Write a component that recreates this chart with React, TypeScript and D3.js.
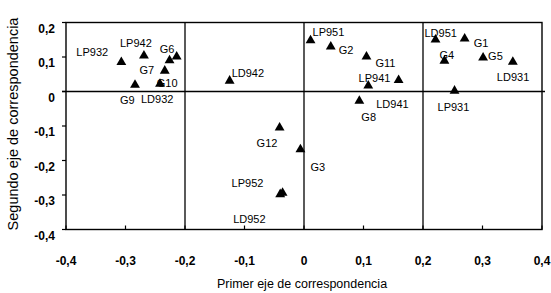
import * as d3 from 'd3';

// point names and coordinates on the two correspondence axes
const names = ['LP932', 'LP942', 'G6', 'G7', 'G10', 'LD932', 'G9', 'LD942', 'G12', 'G3', 'LP952', 'LD952',
  'LP951', 'G2', 'G11', 'LP941', 'LD941', 'G8', 'LD951', 'G1', 'G4', 'G5', 'LD931', 'LP931'];
const dim1 = [-0.307, -0.269, -0.214, -0.226, -0.234, -0.242, -0.284, -0.125, -0.041, -0.006, -0.036, -0.040,
  0.011, 0.045, 0.105, 0.159, 0.108, 0.093, 0.221, 0.270, 0.236, 0.301, 0.351, 0.253];
const dim2 = [0.085, 0.104, 0.101, 0.090, 0.060, 0.022, 0.019, 0.031, -0.105, -0.168, -0.294, -0.298,
  0.148, 0.130, 0.101, 0.033, 0.017, -0.027, 0.150, 0.153, 0.089, 0.098, 0.086, 0.002];

const xTicks = [-0.4, -0.3, -0.2, -0.1, 0, 0.1, 0.2, 0.3, 0.4];
const yTicks = [0.2, 0.1, 0, -0.1, -0.2, -0.3, -0.4];

// label placement relative to the marker (px): left edge, vertical centre
const labelOffsets: [number, number][] = [
  [-45, -10], [-24, -13], [-17, -8], [-30, 10], [-8, 12], [-19, 15], [-15, 15], [2, -8], [-23, 15], [10, 18],
  [-51, -10], [-47, 25], [2, -8], [8, 3], [9, 6], [-40, -2], [8, 18], [2, 16], [-11, -7], [9, 4], [-5, -6],
  [5, -2], [-16, 15], [-17, 16],
];

const fmt = (v: number) => (v === 0 ? '0' : d3.format('.1f')(v).replace('.', ',').replace('−', '-'));

export default function App() {
  const W = 551, H = 293;
  const x = d3.scaleLinear().domain([-0.4, 0.4]).range([66, 542]);
  const y = d3.scaleLinear().domain([-0.4, 0.2]).range([229.5, 22.5]);
  const tri = d3.symbol(d3.symbolTriangle, 42)()!;
  const font = 'Arial, "Liberation Sans", sans-serif';

  return (
    <svg width={W} height={H} style={{ position: 'absolute', left: 0, top: 0, background: '#fff' }} fontFamily={font}>
      {/* frame and grid */}
      <rect x={x(-0.4)} y={y(0.2)} width={x(0.4) - x(-0.4)} height={y(-0.4) - y(0.2)} fill="none" stroke="#000" strokeWidth={1.4} />
      {[-0.2, 0, 0.2].map(v => (
        <line key={v} x1={x(v)} x2={x(v)} y1={y(0.2)} y2={y(-0.4)} stroke="#000" strokeWidth={1.3} />
      ))}
      <line x1={x(-0.4) - 4} x2={x(0.4) + 3} y1={y(0)} y2={y(0)} stroke="#000" strokeWidth={1.3} />

      {/* y axis ticks */}
      {yTicks.map(v => (
        <g key={v}>
          <line x1={x(-0.4) - 4} x2={x(-0.4)} y1={y(v)} y2={y(v)} stroke="#000" strokeWidth={1.2} />
          <text x={55} y={y(v) + 10} textAnchor="end" fontSize={12} fontWeight="bold">{fmt(v)}</text>
        </g>
      ))}

      {/* x axis ticks */}
      {xTicks.map(v => (
        <g key={v}>
          <line x1={x(v)} x2={x(v)} y1={y(-0.4)} y2={y(-0.4) - 4} stroke="#000" strokeWidth={1.2} />
          <text x={x(v)} y={265} textAnchor="middle" fontSize={12} fontWeight="bold">{fmt(v)}</text>
        </g>
      ))}

      {/* points */}
      {names.map((n, i) => (
        <g key={n}>
          <path d={tri} transform={`translate(${x(dim1[i])},${y(dim2[i])})`} fill="#000" />
          <text x={x(dim1[i]) + labelOffsets[i][0]} y={y(dim2[i]) + labelOffsets[i][1] + 4} fontSize={11}>{n}</text>
        </g>
      ))}

      {/* axis titles */}
      <text x={302} y={288} textAnchor="middle" fontSize={12.5}>Primer eje de correspondencia</text>
      <text transform={`translate(18,124) rotate(-90)`} textAnchor="middle" fontSize={14.5}>Segundo eje de correspondencia</text>
    </svg>
  );
}
